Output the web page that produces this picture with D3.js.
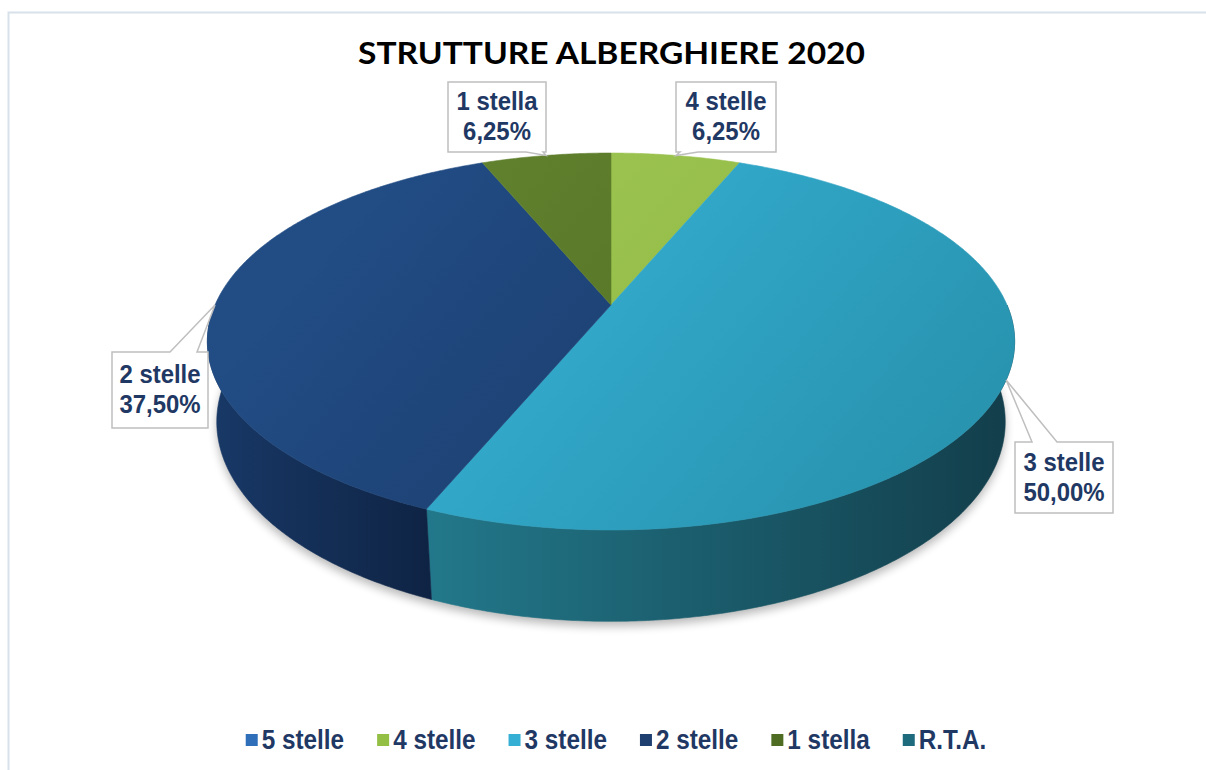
<!DOCTYPE html>
<html>
<head>
<meta charset="utf-8">
<script src="https://cdn.jsdelivr.net/npm/d3@7"></script>
<style>
  html, body { margin: 0; padding: 0; background: #ffffff; }
  svg { display: block; }
</style>
</head>
<body>
<svg id="chart" width="1206" height="770"></svg>
<script>
// ---------- DATA ----------
const title = "STRUTTURE ALBERGHIERE 2020";
const categories = ["5 stelle", "4 stelle", "3 stelle", "2 stelle", "1 stella", "R.T.A."];
const values = [0, 6.25, 50.00, 37.50, 6.25, 0];

// ---------- STYLE ----------
const legendColors = ["#2f6fba", "#93bf45", "#35afd3", "#1f3f70", "#4e6d22", "#1f6b7e"];
const topGrad = {
  "4 stelle": ["#a0c654", "#8cb73f"],
  "3 stelle": ["#38b4d9", "#2894b0"],
  "2 stelle": ["#214c84", "#1a3866"],
  "1 stella": ["#62832f", "#4f6c22"],
  "5 stelle": ["#3a7cc6", "#2a63a8"],
  "R.T.A.":   ["#22788c", "#1a5e6e"]
};
const sideGrad = {
  "4 stelle": ["#6f9230", "#556f24"],
  "3 stelle": ["#22788a", "#133e4b"],
  "2 stelle": ["#183866", "#0f2445"],
  "1 stella": ["#40591a", "#344a14"],
  "5 stelle": ["#24558e", "#1b416e"],
  "R.T.A.":   ["#1a5a6a", "#12414d"]
};
const textColor = "#1f3864";
const labelFont = "'Liberation Sans', Arial, sans-serif";

// callout layout (box x0,y0,x1,y1, wedge side, wedge base)
const callouts = {
  "1 stella": {box: [448, 82, 546, 152], side: "bottom", base: [526, 543]},
  "4 stelle": {box: [676, 82, 776, 152], side: "bottom", base: [680, 698]},
  "2 stelle": {box: [112, 352, 208, 428], side: "top", base: [170, 197]},
  "3 stelle": {box: [1015, 442, 1113, 513], side: "top", base: [1032, 1057]}
};

// ---------- PROJECTION (perspective 3D pie) ----------
const cx = 611, cy = 305, W = 396, U = 181.4, A = 0.1936, H = 0.23;
const sinP = U / W, cosP = Math.sqrt(1 - sinP * sinP);
const D = cosP / A, K = W * D;
function proj(theta, z) {
  const X = Math.sin(theta), Y = Math.cos(theta), Z = z;
  const depth = D + Y * cosP - Z * sinP;
  return [cx + K * X / depth, cy - K * (Y * sinP + Z * cosP) / depth];
}
function rim(a0, a1, z) {
  const n = Math.max(2, Math.ceil((a1 - a0) / (Math.PI / 360)));
  const pts = [];
  for (let i = 0; i <= n; i++) pts.push(proj(a0 + (a1 - a0) * i / n, z));
  return pts;
}
// narrow text: compress horizontally to a factor of its natural width
function narrow(sel, f) {
  const w = sel.node().getComputedTextLength();
  sel.attr("textLength", w * f).attr("lengthAdjust", "spacingAndGlyphs");
  return w * f;
}

const svg = d3.select("#chart");
const defs = svg.append("defs");

// outer border
svg.append("rect").attr("x", 8.5).attr("y", 12.5).attr("width", 1260).attr("height", 820)
  .attr("fill", "none").attr("stroke", "#d8e1ea").attr("stroke-width", 2);

// title
svg.append("text").attr("x", 611.5).attr("y", 64).attr("text-anchor", "middle")
  .attr("font-family", "Lato, 'Open Sans', sans-serif").attr("font-weight", 700)
  .attr("font-size", 30).attr("fill", "#000").attr("textLength", 507)
  .attr("lengthAdjust", "spacingAndGlyphs").text(title);

// pie layout
const data = categories.map((c, i) => ({cat: c, value: values[i], color: legendColors[i]}));
const pie = d3.pie().value(d => d.value).sort(null).startAngle(0).endAngle(2 * Math.PI);
const arcs = pie(data).filter(d => d.value > 0);

// shadow
const blur = defs.append("filter").attr("id", "shadowBlur").attr("x", "-20%").attr("y", "-20%")
  .attr("width", "140%").attr("height", "140%");
blur.append("feGaussianBlur").attr("stdDeviation", 5);
const shadowPts = rim(Math.PI / 2 - 0.3, 3 * Math.PI / 2 + 0.3, -H).map(p => [p[0], p[1] + 5]);
svg.append("path").attr("d", d3.line()(shadowPts) + "Z").attr("fill", "#000")
  .attr("opacity", 0.28).attr("filter", "url(#shadowBlur)");

// gradients
arcs.forEach((d, i) => {
  const tg = defs.append("linearGradient").attr("id", "top" + i).attr("gradientUnits", "userSpaceOnUse")
    .attr("x1", cx - 200).attr("y1", 150).attr("x2", cx + 250).attr("y2", 540);
  tg.append("stop").attr("offset", 0).attr("stop-color", topGrad[d.data.cat][0]);
  tg.append("stop").attr("offset", 1).attr("stop-color", topGrad[d.data.cat][1]);
  const sg = defs.append("linearGradient").attr("id", "side" + i).attr("gradientUnits", "userSpaceOnUse");
  const s = Math.max(d.startAngle, Math.PI / 2), e = Math.min(d.endAngle, 3 * Math.PI / 2);
  const p0 = proj(e, 0), p1 = proj(s, 0);
  sg.attr("x1", p0[0]).attr("y1", 0).attr("x2", p1[0]).attr("y2", 0);
  sg.append("stop").attr("offset", 0).attr("stop-color", sideGrad[d.data.cat][0]);
  sg.append("stop").attr("offset", 1).attr("stop-color", sideGrad[d.data.cat][1]);
});

// walls
const walls = svg.append("g");
arcs.forEach((d, i) => {
  const s = Math.max(d.startAngle, Math.PI / 2), e = Math.min(d.endAngle, 3 * Math.PI / 2);
  if (e <= s) return;
  const topPts = rim(s, e, 0), botPts = rim(s, e, -H).reverse();
  walls.append("path").attr("d", d3.line()(topPts.concat(botPts)) + "Z")
    .attr("fill", "url(#side" + i + ")").attr("stroke", "url(#side" + i + ")").attr("stroke-width", 0.6);
});

// top faces
const tops = svg.append("g");
arcs.forEach((d, i) => {
  const pts = [[cx, cy]].concat(rim(d.startAngle, d.endAngle, 0));
  tops.append("path").attr("d", d3.line()(pts) + "Z")
    .attr("fill", "url(#top" + i + ")").attr("stroke", "url(#top" + i + ")").attr("stroke-width", 0.6);
});

// callouts
const fmt = d3.format(".2f");
const lab = svg.append("g");
arcs.forEach(d => {
  const c = callouts[d.data.cat];
  if (!c) return;
  const mid = (d.startAngle + d.endAngle) / 2;
  const tip = proj(mid, 0);
  const [x0, y0, x1, y1] = c.box;
  let pathD;
  if (c.side === "top") {
    pathD = `M${x0},${y0} L${c.base[0]},${y0} L${tip[0]},${tip[1]} L${c.base[1]},${y0} L${x1},${y0} L${x1},${y1} L${x0},${y1} Z`;
  } else {
    pathD = `M${x0},${y0} L${x1},${y0} L${x1},${y1} L${c.base[1]},${y1} L${tip[0]},${tip[1]} L${c.base[0]},${y1} L${x0},${y1} Z`;
  }
  lab.append("path").attr("d", pathD).attr("fill", "#fff").attr("stroke", "#bfbfbf").attr("stroke-width", 1.5);
  const mx = (x0 + x1) / 2, my = (y0 + y1) / 2;
  const lines = [d.data.cat, fmt(d.data.value).replace(".", ",") + "%"];
  lines.forEach((ln, k) => {
    const t = lab.append("text").attr("x", mx).attr("y", my - 7 + k * 30).attr("text-anchor", "middle")
      .attr("fill", textColor).attr("font-family", labelFont).attr("font-weight", 700)
      .attr("font-size", 26).text(ln);
    narrow(t, 0.92);
  });
});

// legend
const lg = svg.append("g");
let xpos = 0;
data.forEach(d => {
  const g = lg.append("g");
  g.append("rect").attr("x", xpos).attr("y", -15).attr("width", 12).attr("height", 12).attr("fill", d.color);
  const tx = g.append("text").attr("x", xpos + 16).attr("y", 0).attr("fill", textColor)
    .attr("font-family", labelFont).attr("font-weight", 700).attr("font-size", 27)
    .text(d.cat);
  const tw = narrow(tx, 0.9);
  xpos += 16 + tw + 33;
});
const total = xpos - 33;
lg.attr("transform", `translate(${616 - total / 2},${749})`);
</script>
</body>
</html>
